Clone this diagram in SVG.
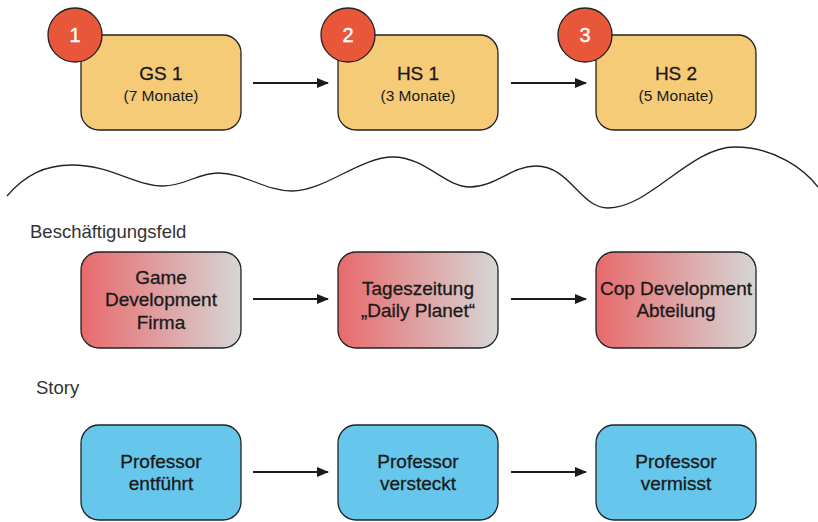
<svg xmlns="http://www.w3.org/2000/svg" width="818" height="522" viewBox="0 0 818 522">
<defs>
<linearGradient id="rg" x1="0" y1="0" x2="1" y2="0">
<stop offset="0" stop-color="#E86A6C"/>
<stop offset="1" stop-color="#D6D6D6"/>
</linearGradient>
<marker id="ah" markerWidth="12" markerHeight="10" refX="11" refY="5" orient="auto" markerUnits="userSpaceOnUse">
<path d="M0,0 L12,5 L0,10 Z" fill="#1a1a1a"/>
</marker>
</defs>
<style>
.box{stroke:#222;stroke-width:1.3}
.y{fill:#F5CB77}
.r{fill:url(#rg)}
.b{fill:#66C6EC}
.c{fill:#E8573A;stroke:#222;stroke-width:1.3}
.t{font-family:"Liberation Sans",Arial,sans-serif;font-size:19px;fill:#1a1a1a;text-anchor:middle;stroke:#1a1a1a;stroke-width:0.3px}
.s{font-family:"Liberation Sans",Arial,sans-serif;font-size:15.5px;fill:#1a1a1a;text-anchor:middle}
.n{font-family:"Liberation Sans",Arial,sans-serif;font-size:20px;fill:#fff;text-anchor:middle;stroke:#fff;stroke-width:0.4px}
.h{font-family:"Liberation Sans",Arial,sans-serif;font-size:18.5px;fill:#333}
.a{stroke:#1a1a1a;stroke-width:2;fill:none;marker-end:url(#ah)}
</style>
<g id="connectors">
<line class="a" x1="253" y1="83" x2="328" y2="83"/>
<line class="a" x1="511" y1="83" x2="586" y2="83"/>
<line class="a" x1="253" y1="299" x2="328" y2="299"/>
<line class="a" x1="511" y1="299" x2="586" y2="299"/>
<line class="a" x1="253" y1="472" x2="328" y2="472"/>
<line class="a" x1="511" y1="472" x2="586" y2="472"/>
</g>
<g id="wave">
<path d="M7,196 C25,175 45,165 72,165 C110,165 135,186 163,186 C185,186 198,173 218,173 C245,173 265,191 292,191 C325,191 360,157 393,157 C425,157 445,187 470,187 C495,187 512,166 536,166 C570,166 580,208 608,208 C650,208 690,147 735,147 C775,147 805,170 818,187" fill="none" stroke="#222" stroke-width="1.3"/>
</g>
<g id="node-gs1">
<rect class="box y" x="81" y="35" width="160" height="95" rx="18"/>
<circle class="c" cx="75" cy="35" r="27"/>
<text class="n" x="75" y="42">1</text>
<text class="t" x="161" y="80">GS 1</text>
<text class="s" x="161" y="101">(7 Monate)</text>
</g>
<g id="node-hs1">
<rect class="box y" x="338" y="35" width="160" height="95" rx="18"/>
<circle class="c" cx="348" cy="35" r="27"/>
<text class="n" x="348" y="42">2</text>
<text class="t" x="418" y="80">HS 1</text>
<text class="s" x="418" y="101">(3 Monate)</text>
</g>
<g id="node-hs2">
<rect class="box y" x="596" y="35" width="160" height="95" rx="18"/>
<circle class="c" cx="585" cy="35" r="27"/>
<text class="n" x="585" y="42">3</text>
<text class="t" x="676" y="80">HS 2</text>
<text class="s" x="676" y="101">(5 Monate)</text>
</g>
<text class="h" x="30" y="238">Beschäftigungsfeld</text>
<g id="node-game">
<rect class="box r" x="81" y="252" width="160" height="96" rx="18"/>
<text class="t" x="161" y="284">Game</text>
<text class="t" x="161" y="306">Development</text>
<text class="t" x="161" y="329">Firma</text>
</g>
<g id="node-zeitung">
<rect class="box r" x="338" y="252" width="160" height="96" rx="18"/>
<text class="t" x="418" y="295">Tageszeitung</text>
<text class="t" x="418" y="317">„Daily Planet“</text>
</g>
<g id="node-cop">
<rect class="box r" x="596" y="252" width="160" height="96" rx="18"/>
<text class="t" x="676" y="295">Cop Development</text>
<text class="t" x="676" y="317">Abteilung</text>
</g>
<text class="h" x="36" y="394">Story</text>
<g id="node-entfuehrt">
<rect class="box b" x="81" y="425" width="160" height="95" rx="18"/>
<text class="t" x="161" y="468">Professor</text>
<text class="t" x="161" y="490">entführt</text>
</g>
<g id="node-versteckt">
<rect class="box b" x="338" y="425" width="160" height="95" rx="18"/>
<text class="t" x="418" y="468">Professor</text>
<text class="t" x="418" y="490">versteckt</text>
</g>
<g id="node-vermisst">
<rect class="box b" x="596" y="425" width="160" height="95" rx="18"/>
<text class="t" x="676" y="468">Professor</text>
<text class="t" x="676" y="490">vermisst</text>
</g>
</svg>
